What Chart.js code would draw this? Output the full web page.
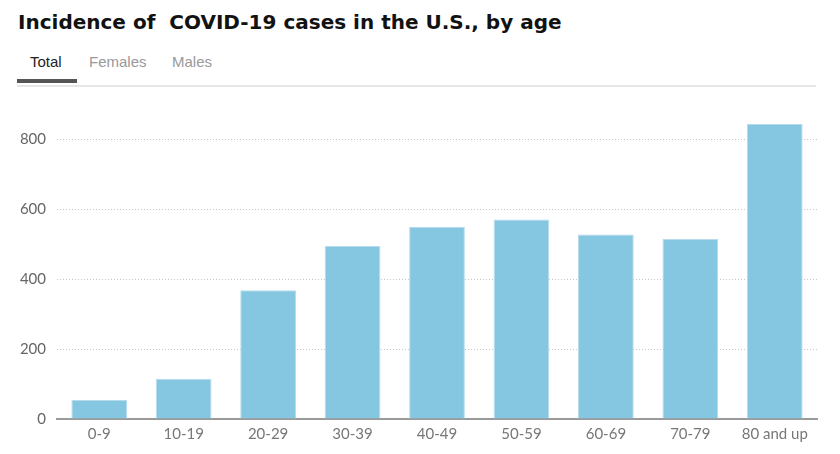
<!DOCTYPE html>
<html>
<head>
<meta charset="utf-8">
<script src="https://cdn.jsdelivr.net/npm/chart.js@4"></script>
<style>
  body { margin: 0; background: #fff; width: 840px; height: 454px; overflow: hidden; position: relative; font-family: "Liberation Sans", Arial, sans-serif; }
  #title { position: absolute; left: 18px; top: 10px; font-family: "DejaVu Sans", sans-serif; font-size: 20px; font-weight: bold; color: #121212; white-space: pre; }
  #tabs { position: absolute; left: 17px; top: 53px; width: 799px; height: 32px; border-bottom: 2px solid #e6e6e6; }
  .tab { position: absolute; top: 0; font-size: 15px; color: #999; }
  .tab.on { color: #222; }
  #bar { position: absolute; left: 0; top: 26px; width: 60px; height: 4px; background: #555; }
  #wrap { position: absolute; left: 0; top: 96px; width: 840px; height: 358px; }
</style>
</head>
<body>
<div id="title">Incidence of  COVID-19 cases in the U.S., by age</div>
<div id="tabs">
  <span class="tab on" style="left:13px">Total</span>
  <span class="tab" style="left:72px">Females</span>
  <span class="tab" style="left:155px">Males</span>
  <div id="bar"></div>
</div>
<div id="wrap"><canvas id="myChart"></canvas></div>
<script>
const ageGroups = ["0-9","10-19","20-29","30-39","40-49","50-59","60-69","70-79","80 and up"];
const cases = [55,115,368,494,549,570,527,514,843];
const yTicks = [0,200,400,600,800];

new Chart("myChart", {
  type: "bar",
  data: {
    labels: ageGroups,
    datasets: [{
      data: cases,
      backgroundColor: "#85c6e0",
      borderColor: "#b5dcec",
      borderWidth: {top: 1, left: 1, right: 1, bottom: 0},
      barPercentage: 0.66,
      categoryPercentage: 1
    }]
  },
  options: {
    responsive: true,
    maintainAspectRatio: false,
    animation: false,
    layout: {padding: {left: 0, right: 23, top: 22, bottom: 12}},
    plugins: {legend: {display: false}, tooltip: {enabled: false}},
    scales: {
      x: {
        grid: {display: false, drawTicks: false},
        border: {display: true, color: "#9a9a9a", width: 2},
        ticks: {color: "#777", font: {family: "Lato", size: 15}, padding: 6},
        afterFit: function(axis) { axis.height = 23; }
      },
      y: {
        min: 0,
        max: 860,
        afterBuildTicks: function(axis) { axis.ticks = yTicks.map(v => ({value: v})); },
        grid: {color: "#c8c8c8", drawTicks: false, lineWidth: 1},
        border: {display: false, dash: [1, 2]},
        ticks: {color: "#666", font: {family: "Lato", size: 15}, padding: 11},
        afterFit: function(axis) { axis.width = 57; }
      }
    }
  }
});
</script>
</body>
</html>
